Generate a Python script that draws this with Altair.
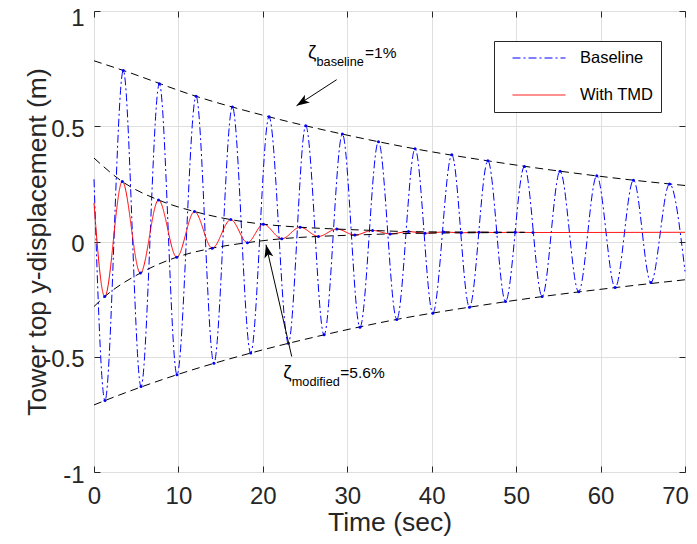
import altair as alt
import pandas as pd

# ---------------- data ----------------
# Baseline response: start, alternating troughs/peaks, end
base_t = [0.0, 1.30, 3.47, 5.57, 7.74, 9.83, 12.09, 14.20, 16.39, 18.56, 20.73, 23.02, 25.08, 27.25,
          29.42, 31.50, 33.69, 35.86, 38.03, 40.13, 42.38, 44.47, 46.65, 48.74, 50.98, 53.08, 55.20,
          57.40, 59.55, 61.73, 63.90, 65.96, 68.17, 70.0]
base_y = [0.27, -0.690, 0.742, -0.629, 0.684, -0.578, 0.630, -0.528, 0.584, -0.484, 0.541, -0.441,
          0.502, -0.405, 0.466, -0.372, 0.433, -0.338, 0.402, -0.311, 0.376, -0.285, 0.350, -0.260,
          0.325, -0.239, 0.305, -0.218, 0.285, -0.200, 0.266, -0.178, 0.250, -0.13]

# With TMD response
tmd_t = [0.0, 1.27, 3.35, 5.49, 7.64, 9.80, 11.90, 14.00, 16.20, 18.17, 20.06, 22.24, 24.41, 26.58,
         28.76, 30.90, 33.00, 35.07, 37.24, 39.20, 41.40, 43.50, 45.60, 47.70, 49.90, 52.00, 70.0]
tmd_y = [0.167, -0.239, 0.260, -0.137, 0.180, -0.068, 0.130, -0.029, 0.095, -0.005, 0.075, 0.012,
         0.062, 0.022, 0.054, 0.028, 0.048, 0.033, 0.043, 0.036, 0.041, 0.038, 0.040, 0.039, 0.040,
         0.039, 0.040]

# Damping envelopes (dashed black)
env_bu_t = [0.0, 3.47, 12.09, 20.73, 29.42, 38.03, 46.65, 55.20, 63.90, 70.0]
env_bu_y = [0.784, 0.742, 0.630, 0.541, 0.466, 0.402, 0.350, 0.305, 0.266, 0.243]
env_bl_t = [0.0, 1.30, 9.83, 18.56, 27.25, 35.86, 44.47, 53.08, 61.73, 70.0]
env_bl_y = [-0.709, -0.690, -0.578, -0.484, -0.405, -0.338, -0.285, -0.239, -0.200, -0.166]
env_tu_t = [0.0, 3.35, 7.64, 11.90, 16.20, 20.06, 24.41, 28.76, 33.00, 37.24, 44.0, 51.0]
env_tu_y = [0.362, 0.260, 0.180, 0.130, 0.095, 0.075, 0.062, 0.054, 0.048, 0.043, 0.041, 0.040]
env_tl_t = [0.0, 1.27, 5.49, 9.80, 14.00, 18.17, 22.24, 26.58, 30.90, 35.07, 39.20, 51.0]
env_tl_y = [-0.282, -0.239, -0.137, -0.068, -0.029, -0.005, 0.012, 0.022, 0.028, 0.033, 0.036, 0.039]

series_names = ["Baseline", "With TMD"]
x_ticks = [0, 10, 20, 30, 40, 50, 60, 70]
y_ticks = [-1, -0.5, 0, 0.5, 1]

# Annotations (data coordinates)
ann_t = [25.35, 22.42]
ann_y = [0.796, -0.591]
ann_zeta = ["ζ", "ζ"]
ann_sub = ["baseline", "modified"]
ann_val = ["=1%", "=5.6%"]
arr_tail_t = [28.74, 23.42]
arr_tail_y = [0.702, -0.499]
arr_tip_t = [23.99, 20.37]
arr_tip_y = [0.589, -0.014]
arr_angle = [237, 347]

# ---------------- tables ----------------
series_df = pd.concat([
    pd.DataFrame({"t": base_t, "y": base_y, "series": series_names[0]}),
    pd.DataFrame({"t": tmd_t, "y": tmd_y, "series": series_names[1]}),
], ignore_index=True)

env_df = pd.concat([
    pd.DataFrame({"t": env_bu_t, "y": env_bu_y, "env": "bu"}),
    pd.DataFrame({"t": env_bl_t, "y": env_bl_y, "env": "bl"}),
    pd.DataFrame({"t": env_tu_t, "y": env_tu_y, "env": "tu"}),
    pd.DataFrame({"t": env_tl_t, "y": env_tl_y, "env": "tl"}),
], ignore_index=True)

dot_df = pd.concat([
    pd.DataFrame({"t": base_t[1:-1], "y": base_y[1:-1]}),
    pd.DataFrame({"t": tmd_t[1:-1], "y": tmd_y[1:-1]}),
], ignore_index=True)

ann_df = pd.DataFrame({"t": ann_t, "y": ann_y, "z": ann_zeta, "sub": ann_sub, "val": ann_val})
arr_df = pd.DataFrame({"t0": arr_tail_t, "y0": arr_tail_y, "t1": arr_tip_t, "y1": arr_tip_y,
                       "ang": arr_angle})

# ---------------- styling ----------------
FONT = "Liberation Sans"
AX = "#262626"
GRID = "#dfdfdf"
xs = alt.Scale(domain=[0, 70], nice=False, zero=False)
ys = alt.Scale(domain=[-1, 1], nice=False, zero=False)

main_x = alt.Axis(values=x_ticks, title="Time (sec)", grid=True, gridColor=GRID, gridWidth=1,
                  ticks=False, tickSize=0, domain=False, labelFontSize=24, labelFont=FONT,
                  labelColor=AX, labelPadding=12, labelFlush=False, labelOverlap=False,
                  labelOffset={"condition": {"test": "datum.value == 70", "value": -10}, "value": 0},
                  titleFontSize=26.5, titleFont=FONT, titleColor=AX, titleFontWeight="normal",
                  titleX=295.5, titleY=58, titleBaseline="alphabetic")
main_y = alt.Axis(values=y_ticks, title="Tower top y-displacement (m)", grid=True, gridColor=GRID,
                  gridWidth=1, ticks=False, tickSize=0, domain=False, labelFontSize=24,
                  labelFont=FONT, labelColor=AX, labelPadding=10, labelOverlap=False,
                  labelExpr="'' + datum.value",
                  labelOffset={"condition": {"test": "datum.value == 1", "value": 7.5}, "value": 3},
                  titleFontSize=26.5, titleFont=FONT, titleColor=AX, titleFontWeight="normal",
                  titleX=-49, titleY=230.5, titleAngle=270, titleBaseline="alphabetic")


def tick_axis(orient, vals):
    return alt.Axis(values=vals, orient=orient, offset=-6, tickSize=6, ticks=True, tickColor=AX,
                    tickWidth=1, labels=False, domain=False, grid=False, title=None)


leg = alt.Legend(orient="none", legendX=400, legendY=30, title=None, symbolType="stroke",
                 symbolSize=2809, symbolStrokeWidth=1, clipHeight=20, rowPadding=17, padding=7,
                 symbolOffset=11, labelOffset=14, labelFontSize=16.5, labelFont=FONT,
                 labelColor="#000000", strokeColor=AX, fillColor="white", labelLimit=300)

series = alt.Chart(series_df).mark_line(interpolate="monotone", strokeWidth=1).encode(
    x=alt.X("t:Q", scale=xs, axis=tick_axis("top", x_ticks)),
    y=alt.Y("y:Q", scale=ys, axis=tick_axis("right", y_ticks)),
    color=alt.Color("series:N", scale=alt.Scale(domain=series_names, range=["#0000ff", "#ff0000"]),
                    legend=leg),
    strokeDash=alt.StrokeDash("series:N",
                              scale=alt.Scale(domain=series_names, range=[[8, 3, 2, 3], [1, 0]]),
                              legend=leg),
)

envelopes = alt.Chart(env_df).mark_line(interpolate="monotone", color="#000000", strokeWidth=1,
                                         strokeDash=[8, 5]).encode(
    x=alt.X("t:Q", scale=xs, axis=main_x),
    y=alt.Y("y:Q", scale=ys, axis=main_y),
    detail="env:N",
)

dots = alt.Chart(dot_df).mark_circle(size=9, color="#0000ff", opacity=1).encode(
    x=alt.X("t:Q", scale=xs, axis=tick_axis("bottom", x_ticks)),
    y=alt.Y("y:Q", scale=ys, axis=tick_axis("left", y_ticks)),
)

arrow_line = alt.Chart(arr_df).mark_rule(color="#000000", strokeWidth=1).encode(
    x=alt.X("t0:Q", scale=xs, axis=None), y=alt.Y("y0:Q", scale=ys, axis=None),
    x2="t1:Q", y2="y1:Q",
)
arrow_head = alt.Chart(arr_df).mark_point(shape="M0,0L-0.7,2L0,1.5L0.7,2Z", filled=True,
                                          size=169, color="#000000", opacity=1).encode(
    x=alt.X("t1:Q", scale=xs, axis=None), y=alt.Y("y1:Q", scale=ys, axis=None),
    angle=alt.Angle("ang:Q", scale=None),
)

txt_z = alt.Chart(ann_df).mark_text(align="left", baseline="alphabetic", font=FONT, fontSize=19,
                                    color="#000000").encode(
    x=alt.X("t:Q", scale=xs, axis=None), y=alt.Y("y:Q", scale=ys, axis=None), text="z:N")
txt_sub = alt.Chart(ann_df).mark_text(align="left", baseline="alphabetic", font=FONT, fontSize=12.7,
                                      dx=8.5, dy=8, color="#000000").encode(
    x=alt.X("t:Q", scale=xs, axis=None), y=alt.Y("y:Q", scale=ys, axis=None), text="sub:N")
txt_val = alt.Chart(ann_df).mark_text(align="left", baseline="alphabetic", font=FONT, fontSize=15.5,
                                      dx=57, color="#000000").encode(
    x=alt.X("t:Q", scale=xs, axis=None), y=alt.Y("y:Q", scale=ys, axis=None), text="val:N")

chart = alt.layer(
    series, envelopes, dots, arrow_line, arrow_head, txt_z, txt_sub, txt_val
).resolve_axis(x="independent", y="independent").properties(
    width=591, height=461,
    autosize=alt.AutoSizeParams(type="none"),
    padding={"left": 86, "top": 3, "right": 4, "bottom": 64},
).configure_view(stroke=AX, strokeWidth=1)

chart.save("out.html", embed_options={"renderer": "svg", "actions": False})
